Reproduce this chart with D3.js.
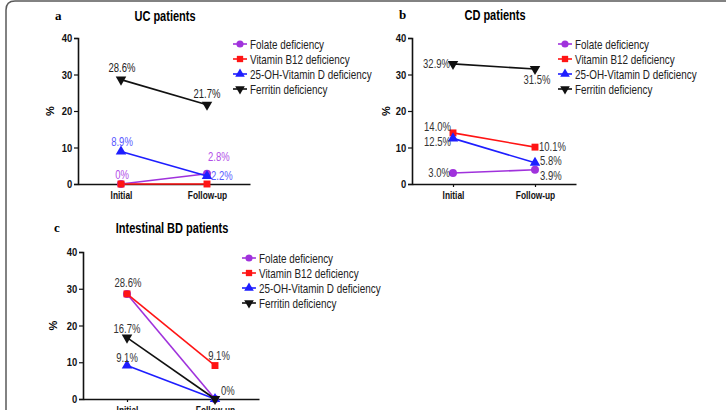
<!DOCTYPE html>
<html>
<head>
<meta charset="utf-8">
<script src="https://cdn.jsdelivr.net/npm/d3@7"></script>
<style>
  html, body { margin: 0; padding: 0; background: #fff; overflow: hidden; }
  text { font-family: "Liberation Sans", Arial, sans-serif; }
</style>
</head>
<body>
<svg id="chart" width="726" height="410"></svg>
<script>
// values (percent)
var categories = ["Initial", "Follow-up"];
var seriesNames = ["Folate deficiency", "Vitamin B12 deficiency", "25-OH-Vitamin D deficiency", "Ferritin deficiency"];
var yTicks = [0, 10, 20, 30, 40];

var ucFolate = [0, 2.8];
var ucB12 = [0, 0];
var ucVitD = [8.9, 2.2];
var ucFerritin = [28.6, 21.7];

var cdFolate = [3.0, 3.9];
var cdB12 = [14.0, 10.1];
var cdVitD = [12.5, 5.8];
var cdFerritin = [32.9, 31.5];

var bdFolate = [28.6, 0];
var bdB12 = [28.6, 9.1];
var bdVitD = [9.1, 0];
var bdFerritin = [16.7, 0];

var colors = ["#a032dc", "#ff1414", "#1e1eff", "#111111"];
var symbols = [d3.symbolCircle, d3.symbolSquare, d3.symbolTriangle, d3.symbolTriangle];

// the original uses a narrow sans; squeeze Liberation Sans horizontally
var SQ = 0.76;

// label placement: [series, category, dx, dy, anchor]
var panels = [
    {
        letter: "a", title: "UC patients", letterX: 55, titleX: 165, titleY: 21,
        x0: 78, width: 172, yTop: 38, yBottom: 184, pctX: 50, legendX: 233, legendY: 44,
        series: [ucFolate, ucB12, ucVitD, ucFerritin],
        labelColors: ["#b24ee8", "#ff1414", "#5a5aff", "#222"],
        labels: [[3, 0, 1, -8, "middle"], [3, 1, 0, -7, "middle"], [2, 0, 1, -6, "middle"],
                 [2, 1, 4, 4, "start"], [0, 1, 1, -13, "start"], [0, 0, 1, -5, "middle"]]
    },
    {
        letter: "b", title: "CD patients", letterX: 399, titleX: 495, titleY: 20,
        x0: 412, width: 164, yTop: 38, yBottom: 184, pctX: 386, legendX: 558, legendY: 44,
        series: [cdFolate, cdB12, cdVitD, cdFerritin],
        labelColors: ["#333", "#333", "#333", "#333"],
        labels: [[3, 0, -3, 4, "end"], [3, 1, 2, 15, "middle"], [1, 0, -2, -2, "end"],
                 [1, 1, 4, 4, "start"], [2, 0, -2, 8, "end"], [2, 1, 5, 2, "start"],
                 [0, 0, -3, 4, "end"], [0, 1, 5, 10, "start"]]
    },
    {
        letter: "c", title: "Intestinal BD patients", letterX: 54, titleX: 172, titleY: 233,
        x0: 83, width: 176, yTop: 252, yBottom: 399, pctX: 53, legendX: 242, legendY: 258,
        series: [bdFolate, bdB12, bdVitD, bdFerritin],
        labelColors: ["#333", "#333", "#333", "#333"],
        labels: [[1, 0, 1, -7, "middle"], [3, 0, 0, -5, "middle"], [2, 0, 0, -4, "middle"],
                 [1, 1, 4, -6, "middle"], [3, 1, 6, -4, "start"]]
    }
];

var svg = d3.select("#chart");

// rounded frame (only top and left edges are in view)
svg.append("path")
    .attr("d", "M6,412 L6,10 Q6,1 15,1 L728,1")
    .attr("fill", "none")
    .attr("stroke", "#5a5a5a")
    .attr("stroke-width", 1.5);

function fmt(v) {
    return v === 0 ? "0%" : v.toFixed(1) + "%";
}

function marker(i, size) {
    return d3.symbol().type(symbols[i]).size(size)();
}

function narrowText(g, x, y, str) {
    return g.append("text")
        .attr("transform", "translate(" + x + "," + y + ") scale(" + SQ + ",1)")
        .text(str);
}

panels.forEach(function (p) {
    var g = svg.append("g");

    var x = d3.scalePoint()
        .domain(categories)
        .range([p.x0, p.x0 + p.width])
        .padding(0.5);

    var y = d3.scaleLinear()
        .domain([0, 40])
        .range([p.yBottom, p.yTop]);

    // panel letter and title
    g.append("text")
        .attr("x", p.letterX).attr("y", p.titleY - 1)
        .style("font-family", "'Liberation Serif', serif")
        .style("font-weight", "bold")
        .style("font-size", "13px")
        .text(p.letter);

    narrowText(g, p.titleX, p.titleY, p.title)
        .attr("text-anchor", "middle")
        .style("font-weight", "bold")
        .style("font-size", "14.5px");

    // y axis
    var yAxis = g.append("g")
        .attr("transform", "translate(" + p.x0 + ",0)")
        .call(d3.axisLeft(y).tickValues(yTicks).tickSize(4).tickPadding(3));
    yAxis.selectAll("text")
        .attr("transform", "scale(0.82,1)")
        .style("font-size", "11.5px")
        .style("font-weight", "bold")
        .attr("fill", "#111");

    // x axis
    var xAxis = g.append("g")
        .attr("transform", "translate(0," + p.yBottom + ")")
        .call(d3.axisBottom(x).tickSize(3).tickPadding(4).tickSizeOuter(0));
    xAxis.selectAll("text")
        .attr("transform", "scale(" + SQ + ",1)")
        .style("font-size", "11px")
        .style("font-weight", "bold")
        .attr("fill", "#111");

    g.selectAll(".domain").attr("stroke", "#111").attr("stroke-width", 1.6);
    g.selectAll(".tick line").attr("stroke", "#111").attr("stroke-width", 1.2);

    g.append("text")
        .attr("transform", "translate(" + p.pctX + "," + ((p.yTop + p.yBottom) / 2) + ") rotate(-90)")
        .attr("text-anchor", "middle")
        .attr("dy", "0.35em")
        .style("font-size", "11px")
        .style("font-weight", "bold")
        .text("%");

    // lines and markers
    p.series.forEach(function (vals, si) {
        var pts = vals.map(function (v, ci) { return [x(categories[ci]), y(v)]; });
        g.append("path")
            .attr("d", d3.line()(pts))
            .attr("fill", "none")
            .attr("stroke", colors[si])
            .attr("stroke-width", 1.6);
        g.selectAll(null)
            .data(pts)
            .enter()
            .append("path")
            .attr("d", marker(si, si === 0 ? 50 : 48))
            .attr("transform", function (d) {
                return "translate(" + d[0] + "," + d[1] + ")" + (si === 3 ? " rotate(180)" : "");
            })
            .attr("fill", colors[si]);
    });

    // value labels
    p.labels.forEach(function (l) {
        var v = p.series[l[0]][l[1]];
        narrowText(g, x(categories[l[1]]) + l[2], y(v) + l[3], fmt(v))
            .attr("text-anchor", l[4])
            .style("font-size", "12.5px")
            .attr("fill", p.labelColors[l[0]]);
    });

    // legend
    var legend = g.selectAll(".legend")
        .data(seriesNames)
        .enter()
        .append("g")
        .attr("transform", function (d, i) { return "translate(" + p.legendX + "," + (p.legendY + i * 15) + ")"; });

    legend.append("line")
        .attr("x1", 0).attr("x2", 14)
        .attr("stroke", function (d, i) { return colors[i]; })
        .attr("stroke-width", 1.6);

    legend.append("path")
        .attr("d", function (d, i) { return marker(i, 40); })
        .attr("transform", function (d, i) { return "translate(7,0)" + (i === 3 ? " rotate(180)" : ""); })
        .attr("fill", function (d, i) { return colors[i]; });

    legend.append("text")
        .attr("transform", "translate(17,0) scale(" + SQ + ",1)")
        .attr("dy", "0.35em")
        .style("font-size", "13px")
        .attr("fill", "#222")
        .text(function (d) { return d; });
});
</script>
</body>
</html>
